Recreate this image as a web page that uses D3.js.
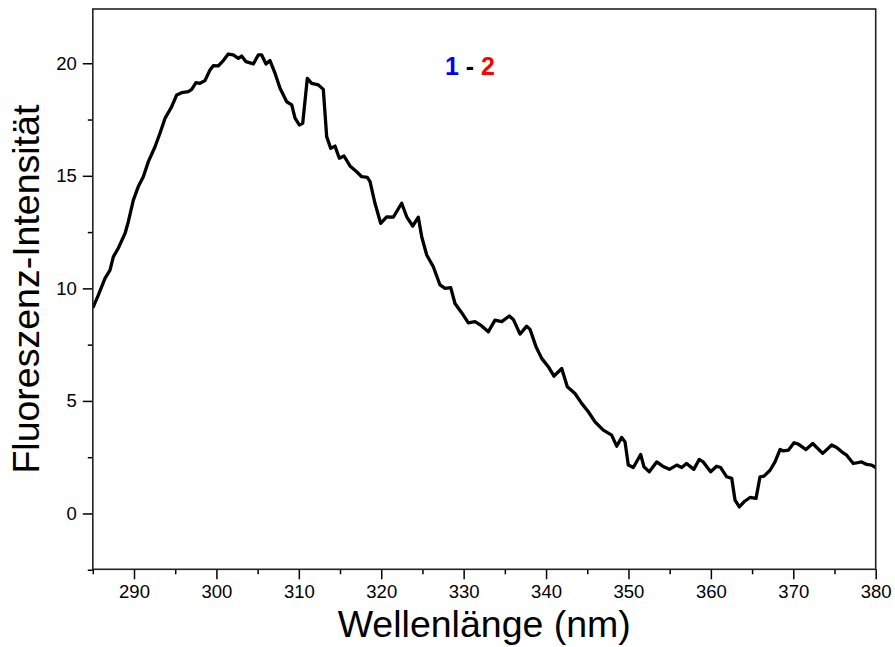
<!DOCTYPE html>
<html>
<head>
<meta charset="utf-8">
<script src="https://cdn.jsdelivr.net/npm/d3@7"></script>
<style>
  html, body { margin: 0; padding: 0; background: #fff; }
  svg { display: block; font-family: "Liberation Sans", Arial, Helvetica, sans-serif; }
</style>
</head>
<body>
<svg id="chart" width="895" height="647"></svg>
<script>
// Emission spectrum (nm) and fluorescence intensity
const wavelength = [
  285.06, 285.67, 286.48, 287.09, 287.49, 288.09, 288.91, 289.31, 289.92, 290.52,
  291.13, 291.74, 292.55, 293.15, 293.76, 294.57, 295.18, 295.78, 296.59, 297.00,
  297.52, 298.00, 298.61, 299.22, 299.62, 300.23, 300.84, 301.44, 302.05, 302.66,
  303.06, 303.59, 304.48, 305.08, 305.49, 306.02, 306.50, 307.11, 307.72, 308.53,
  309.14, 309.54, 310.06, 310.47, 311.03, 311.56, 312.37, 312.97, 313.38, 313.87,
  314.39, 314.91, 315.48, 316.21, 317.02, 317.63, 318.31, 318.64, 319.24, 319.93,
  320.66, 321.46, 322.48, 323.09, 323.82, 324.50, 324.91, 325.52, 326.32, 327.13,
  327.74, 328.43, 328.95, 329.76, 330.57, 331.38, 332.19, 332.99, 333.80, 334.62,
  335.54, 336.03, 336.84, 337.65, 338.05, 338.78, 339.47, 340.27, 340.96, 341.90,
  342.58, 343.51, 344.32, 345.13, 345.94, 346.95, 347.96, 348.57, 349.18, 349.58,
  349.98, 350.59, 351.48, 351.88, 352.53, 353.42, 354.15, 354.96, 355.85, 356.46,
  357.05, 357.93, 358.58, 359.07, 359.97, 360.70, 361.19, 361.92, 362.53, 362.93,
  363.45, 364.02, 364.75, 365.48, 365.96, 366.45, 367.18, 367.78, 368.39, 368.79,
  369.40, 370.09, 370.61, 371.54, 372.36, 373.57, 374.66, 375.27, 375.88, 376.48,
  377.28, 378.30, 378.91, 379.51, 380.00
];
const intensity = [
  9.18, 9.70, 10.44, 10.81, 11.40, 11.78, 12.44, 12.96, 13.92, 14.52,
  14.96, 15.63, 16.29, 16.89, 17.55, 18.07, 18.59, 18.69, 18.74, 18.84,
  19.14, 19.11, 19.23, 19.70, 19.89, 19.88, 20.12, 20.41, 20.37, 20.22,
  20.32, 20.07, 19.97, 20.37, 20.37, 19.97, 20.12, 19.56, 18.89, 18.29,
  18.15, 17.56, 17.26, 17.33, 19.33, 19.11, 19.04, 18.84, 16.74, 16.22,
  16.32, 15.78, 15.88, 15.44, 15.18, 14.96, 14.93, 14.74, 13.78, 12.89,
  13.18, 13.16, 13.78, 13.18, 12.77, 13.16, 12.29, 11.48, 10.96, 10.15,
  10.00, 10.03, 9.33, 8.92, 8.47, 8.52, 8.33, 8.07, 8.59, 8.52,
  8.77, 8.62, 7.97, 8.32, 8.18, 7.41, 6.89, 6.52, 6.10, 6.44,
  5.63, 5.33, 4.89, 4.52, 4.07, 3.70, 3.48, 2.99, 3.38, 3.18,
  2.15, 2.04, 2.62, 2.07, 1.85, 2.29, 2.10, 1.96, 2.15, 2.04,
  2.22, 1.96, 2.40, 2.29, 1.85, 2.10, 2.04, 1.63, 1.56, 0.59,
  0.29, 0.52, 0.71, 0.67, 1.63, 1.66, 1.92, 2.29, 2.84, 2.78,
  2.81, 3.14, 3.08, 2.84, 3.11, 2.67, 3.04, 2.93, 2.74, 2.59,
  2.22, 2.29, 2.18, 2.15, 2.04
];

const xMajorTicks = [290, 300, 310, 320, 330, 340, 350, 360, 370, 380];
const xMinorTicks = [285, 295, 305, 315, 325, 335, 345, 355, 365, 375];
const yMajorTicks = [0, 5, 10, 15, 20];
const yMinorTicks = [-2.5, 2.5, 7.5, 12.5, 17.5];

const xDomain = [285, 380];
const yDomain = [-2.48, 22.41];

const xTitle = "Wellenlänge (nm)";
const yTitle = "Fluoreszenz-Intensität";
const sampleLabel = [
  { text: "1", color: "#0000ff" },
  { text: " - ", color: "#000000" },
  { text: "2", color: "#ff0000" }
];

const svg = d3.select("#chart");
const plot = { left: 92.8, right: 875.7, top: 9, bottom: 569.3 };

const x = d3.scaleLinear().domain(xDomain).range([plot.left, plot.right]);
const y = d3.scaleLinear().domain(yDomain).range([plot.bottom, plot.top]);

// Clip the trace to the frame
svg.append("defs").append("clipPath").attr("id", "plotClip")
  .append("rect")
  .attr("x", plot.left).attr("y", plot.top)
  .attr("width", plot.right - plot.left).attr("height", plot.bottom - plot.top);

const series = wavelength.map((w, i) => ({ w, v: intensity[i] }));
const line = d3.line().x(d => x(d.w)).y(d => y(d.v));

svg.append("path")
  .datum(series)
  .attr("clip-path", "url(#plotClip)")
  .attr("fill", "none")
  .attr("stroke", "#000")
  .attr("stroke-width", 3.3)
  .attr("stroke-linejoin", "round")
  .attr("stroke-linecap", "round")
  .attr("d", line);

// Bottom axis: major with labels, minor without
const xAxis = d3.axisBottom(x).tickValues(xMajorTicks).tickSize(10).tickPadding(6)
  .tickFormat(d3.format("d"));
const gx = svg.append("g").attr("transform", `translate(0,${plot.bottom})`).call(xAxis);
gx.select(".domain").remove();
gx.selectAll(".tick line").attr("stroke", "#000").attr("stroke-width", 1.5);
gx.selectAll(".tick text").attr("fill", "#000").style("font-size", "18.5px");

const gxm = svg.append("g").attr("transform", `translate(0,${plot.bottom})`)
  .call(d3.axisBottom(x).tickValues(xMinorTicks).tickSize(5).tickFormat(""));
gxm.select(".domain").remove();
gxm.selectAll(".tick line").attr("stroke", "#000").attr("stroke-width", 1.5);

// Left axis
const yAxis = d3.axisLeft(y).tickValues(yMajorTicks).tickSize(10).tickPadding(6)
  .tickFormat(d3.format("d"));
const gy = svg.append("g").attr("transform", `translate(${plot.left},0)`).call(yAxis);
gy.select(".domain").remove();
gy.selectAll(".tick line").attr("stroke", "#000").attr("stroke-width", 1.5);
gy.selectAll(".tick text").attr("fill", "#000").style("font-size", "18.5px");

const gym = svg.append("g").attr("transform", `translate(${plot.left},0)`)
  .call(d3.axisLeft(y).tickValues(yMinorTicks).tickSize(5).tickFormat(""));
gym.select(".domain").remove();
gym.selectAll(".tick line").attr("stroke", "#000").attr("stroke-width", 1.5);

// Frame
svg.append("rect")
  .attr("x", plot.left).attr("y", plot.top)
  .attr("width", plot.right - plot.left).attr("height", plot.bottom - plot.top)
  .attr("fill", "none").attr("stroke", "#222").attr("stroke-width", 1.6);

// Axis titles
svg.append("text")
  .attr("x", (plot.left + plot.right) / 2)
  .attr("y", 637)
  .attr("text-anchor", "middle")
  .style("font-size", "37.5px")
  .attr("fill", "#000")
  .text(xTitle);

svg.append("text")
  .attr("transform", `translate(39,${(plot.top + plot.bottom) / 2}) rotate(-90)`)
  .attr("text-anchor", "middle")
  .style("font-size", "37.5px")
  .attr("fill", "#000")
  .text(yTitle);

// Sample label
const lbl = svg.append("text")
  .attr("x", 470).attr("y", 75)
  .attr("text-anchor", "middle")
  .style("font-size", "25px")
  .style("font-weight", "bold")
  .style("white-space", "pre");
lbl.selectAll("tspan").data(sampleLabel).join("tspan")
  .attr("fill", d => d.color)
  .text(d => d.text);
</script>
</body>
</html>
